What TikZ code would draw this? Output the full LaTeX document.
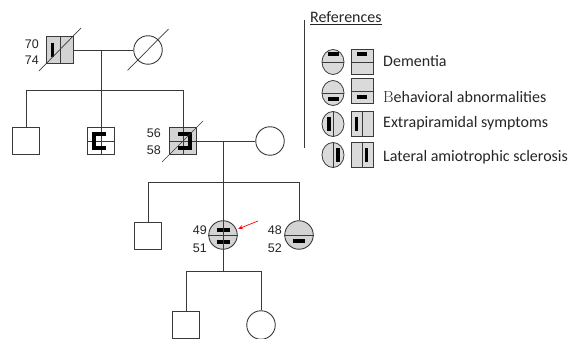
\documentclass[tikz,border=0pt]{standalone}
\usepackage{fontspec}
\newfontfamily\numfont{Liberation Sans}
\newfontfamily\legfont{Carlito}
\usetikzlibrary{arrows.meta,shapes.geometric}
\definecolor{ln}{HTML}{3A3A3A}
\definecolor{gf}{HTML}{D3D3D3}
\definecolor{lgf}{HTML}{DADADA}
\tikzset{
  conn/.style={draw=ln, line width=0.9pt},
  male/.style={rectangle, draw=ln, line width=0.9pt, minimum size=27.5pt, inner sep=0pt, fill=white},
  female/.style={circle, draw=ln, line width=0.9pt, minimum size=28.5pt, inner sep=0pt, fill=white},
  aff/.style={fill=gf},
  divl/.style={draw=ln, line width=0.8pt},
  barmark/.style={draw=black, line width=3.2pt},
  slash/.style={draw=ln, line width=0.7pt},
  age/.style={font=\numfont\fontsize{12.5}{13}\selectfont, inner sep=0pt, anchor=east, text=black!85},
  legtxt/.style={font=\legfont\fontsize{16}{18}\selectfont, anchor=west, inner sep=0pt, text=black!85},
  legc/.style={ellipse, draw=ln, line width=0.8pt, minimum width=22pt, minimum height=25pt, inner sep=0pt, fill=lgf},
  legs/.style={rectangle, draw=ln, line width=0.8pt, minimum width=22pt, minimum height=25pt, inner sep=0pt, fill=lgf},
}
\begin{document}
\begin{tikzpicture}[x=1pt,y=-1pt]
\useasboundingbox (0,0) rectangle (570,339);
\fill[white] (0,0) rectangle (570,339);

% ---------- Generation I ----------
\node[male, aff] (m1) at (60,50) {};
\draw[divl] (m1.north) -- (m1.south);
\draw[barmark] ([shift={(-7.5,-7)}]m1.center) -- ([shift={(-7.5,7)}]m1.center);
\draw[slash] ([shift={(-21,21)}]m1.center) -- ([shift={(21,-22)}]m1.center);
\node[age] (a70) at ([shift={(-21,-6)}]m1.center) {70};
\node[age] (a74) at ([shift={(-21,10)}]m1.center) {74};

\node[female] (f1) at (148,50) {};
\draw[slash] ([shift={(-20.5,20.5)}]f1.center) -- ([shift={(20.5,-21)}]f1.center);

\draw[conn] (m1.east) -- (f1.west);
\coordinate (c1) at (101,50);
\coordinate (d1) at (101,90);

% ---------- Generation II ----------
\node[male] (s1) at (26,141) {};
\node[male] (s2) at (101,141) {};
\draw[divl] (s2.north) -- (s2.south);
\draw[divl] (s2.west) -- (s2.east);
\draw[barmark, line join=miter] ([shift={(5,-7)}]s2.center) -- ([shift={(-7,-7)}]s2.center) -- ([shift={(-7,7)}]s2.center) -- ([shift={(5,7)}]s2.center);

\node[male, aff] (m2) at (183,141) {};
\draw[divl] (m2.north) -- (m2.south);
\draw[divl] (m2.west) -- (m2.east);
\draw[barmark, line join=miter] ([shift={(-5,-7)}]m2.center) -- ([shift={(7,-7)}]m2.center) -- ([shift={(7,7)}]m2.center) -- ([shift={(-5,7)}]m2.center);
\draw[slash] ([shift={(-21,21)}]m2.center) -- ([shift={(20,-20)}]m2.center);
\node[age] (a56) at ([shift={(-22,-8)}]m2.center) {56};
\node[age] (a58) at ([shift={(-22,9)}]m2.center) {58};

\draw[conn] (c1) -- (s2.north);
\draw[conn] (s1.north) -- (s1.north |- d1) -- (m2.north |- d1) -- (m2.north);

\node[female] (f2) at (270,141) {};
\draw[conn] (m2.east) -- (f2.west);
\coordinate (c2) at (223,141);
\coordinate (d2) at (223,182);

% ---------- Generation III ----------
\node[male] (s3) at (148,236) {};

\node[female, aff] (p) at (223,235) {};
\draw[divl] (p.west) -- (p.east);
\draw[barmark] ([shift={(-6.5,-5)}]p.center) -- ([shift={(6.5,-5)}]p.center);
\draw[barmark] ([shift={(-6.5,7)}]p.center) -- ([shift={(6.5,7)}]p.center);
\node[age] (a49) at ([shift={(-16,-5)}]p.center) {49};
\node[age] (a51) at ([shift={(-16,13)}]p.center) {51};

\node[female, aff] (f3) at (299,235) {};
\draw[divl] (f3.west) -- (f3.east);
\draw[barmark] ([shift={(-6,6)}]f3.center) -- ([shift={(6,6)}]f3.center);
\node[age] (a48) at ([shift={(-17,-5)}]f3.center) {48};
\node[age] (a52) at ([shift={(-17,13)}]f3.center) {52};

\coordinate (d3) at (223,271);
\draw[conn] (c2) -- (d3);
\draw[conn] (s3.north) -- (s3.north |- d2) -- (f3.north |- d2) -- (f3.north);

\coordinate (ar) at (258,221);
\draw[red, line width=0.7pt, -{Stealth[length=5pt,width=4pt]}, shorten >=1.5pt] (ar) -- (p);

% ---------- Generation IV ----------
\node[male] (s4) at (186,325) {};
\node[female] (f4) at (261,325) {};
\draw[conn] (s4.north) -- (s4.north |- d3) -- (f4.north |- d3) -- (f4.north);

% ---------- Legend ----------
\coordinate (lt) at (304,20);
\coordinate (lb) at (304,148);
\draw[draw=ln, line width=0.9pt] (lt) -- (lb);
\node[legtxt] (ref) at (310,18) {\underline{References}};

% Dementia
\node[legc] (lc1) at (333,62) {};
\draw[divl] (lc1.west) -- (lc1.east);
\draw[barmark] ([shift={(-5.5,-8)}]lc1.center) -- ([shift={(5.5,-8)}]lc1.center);
\node[legs] (ls1) at (362,62) {};
\draw[divl] (ls1.west) -- (ls1.east);
\draw[barmark] ([shift={(-5,-8)}]ls1.center) -- ([shift={(5,-8)}]ls1.center);
\node[legtxt] (t1) at (383,61) {Dementia};

% Behavioral
\node[legc] (lc2) at (333,93) {};
\draw[divl] (lc2.west) -- (lc2.east);
\draw[barmark] ([shift={(-5.5,6)}]lc2.center) -- ([shift={(5.5,6)}]lc2.center);
\node[legs] (ls2) at (362,91) {};
\draw[divl] (ls2.west) -- (ls2.east);
\draw[barmark] ([shift={(-5,6)}]ls2.center) -- ([shift={(5,6)}]ls2.center);
\node[legtxt] (t2) at (383,97) {{\rmfamily B}ehavioral abnormalities};

% Extrapyramidal
\node[legc] (lc3) at (333,124) {};
\draw[divl] (lc3.north) -- (lc3.south);
\draw[barmark] ([shift={(-4,-7)}]lc3.center) -- ([shift={(-4,7)}]lc3.center);
\node[legs] (ls3) at (362,124) {};
\draw[divl] (ls3.north) -- (ls3.south);
\draw[barmark] ([shift={(-5.5,-7)}]ls3.center) -- ([shift={(-5.5,7)}]ls3.center);
\node[legtxt] (t3) at (383,123) {Extrapiramidal symptoms};

% ALS
\node[legc] (lc4) at (333,155) {};
\draw[divl] (lc4.north) -- (lc4.south);
\draw[barmark] ([shift={(5,-7)}]lc4.center) -- ([shift={(5,7)}]lc4.center);
\node[legs] (ls4) at (362,155) {};
\draw[divl] (ls4.north) -- (ls4.south);
\draw[barmark] ([shift={(4.5,-7)}]ls4.center) -- ([shift={(4.5,7)}]ls4.center);
\node[legtxt] (t4) at (383,157) {Lateral amiotrophic sclerosis};
\end{tikzpicture}
\end{document}
